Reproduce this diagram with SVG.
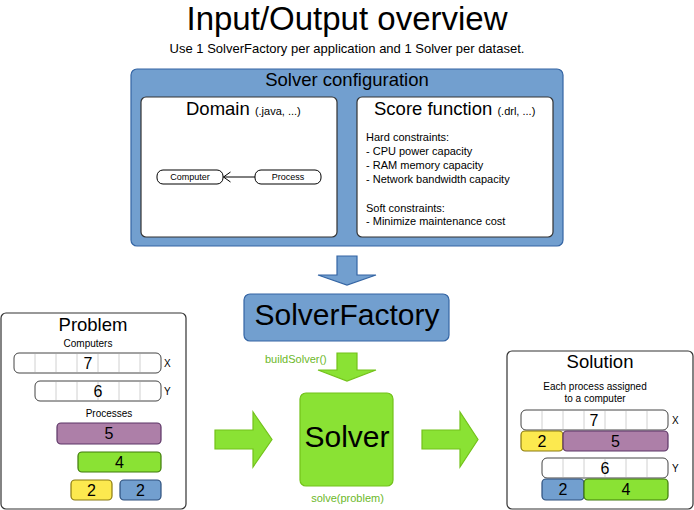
<svg xmlns="http://www.w3.org/2000/svg" width="694" height="510" viewBox="0 0 694 510">
<defs>
<style>
text{font-family:"Liberation Sans",Arial,sans-serif;fill:#000}
.mid{text-anchor:middle}
.panel{fill:#fff;stroke:#333;stroke-width:1.2}
.blue{fill:#729fcf;stroke:#3465a4;stroke-width:1.2}
.green{fill:#8ae234;stroke:#73c21a;stroke-width:1.2}
.purple{fill:#ad7fa8;stroke:#5c3566;stroke-width:1.2}
.yellow{fill:#fce94f;stroke:#8a7a10;stroke-width:1.2}
.pblue{fill:#729fcf;stroke:#2c4f7c;stroke-width:1.2}
.pgreen{fill:#8ae234;stroke:#3f7a0a;stroke-width:1.2}
.row{fill:#fff;stroke:#444;stroke-width:1}
.cell{stroke:#d0d0d0;stroke-width:1}
.uml{fill:#fff;stroke:#000;stroke-width:1}
.lbl{fill:#6cb82a;font-size:11px}
.num{font-size:16px;text-anchor:middle}
.axis{font-size:10px}
</style>
<marker id="open" markerWidth="12" markerHeight="12" refX="10" refY="6" orient="auto" markerUnits="userSpaceOnUse">
<path d="M3,1 L10,6 L3,11" fill="none" stroke="#000" stroke-width="1"/>
</marker>
</defs>
<rect width="694" height="510" fill="#fff"/>

<g id="title">
<text x="347" y="30" class="mid" font-size="33">Input/Output overview</text>
<text x="347" y="53" class="mid" font-size="13">Use 1 SolverFactory per application and 1 Solver per dataset.</text>
</g>

<g id="solver-configuration">
<rect x="131" y="69" width="432" height="177" rx="6" class="blue"/>
<text x="347" y="86" class="mid" font-size="18.5">Solver configuration</text>
</g>

<g id="domain">
<rect x="141" y="97" width="196" height="140" rx="5" class="panel" stroke="#000"/>
<text x="186" y="115" font-size="18.5">Domain <tspan font-size="11">(.java, ...)</tspan></text>
</g>
<g id="computer">
<rect x="157" y="170" width="66" height="14" rx="6" class="uml"/>
<text x="190" y="179.5" class="mid" font-size="9">Computer</text>
</g>
<g id="process">
<rect x="255" y="170" width="66" height="14" rx="6" class="uml"/>
<text x="288" y="179.5" class="mid" font-size="9">Process</text>
</g>

<g id="score-function">
<rect x="357" y="97" width="196" height="140" rx="5" class="panel" stroke="#000"/>
<text x="374" y="115" font-size="18.5">Score function <tspan font-size="11">(.drl, ...)</tspan></text>
<text x="366" y="141" font-size="11">Hard constraints:</text>
<text x="366" y="155" font-size="11">- CPU power capacity</text>
<text x="366" y="168.5" font-size="11">- RAM memory capacity</text>
<text x="366" y="182.5" font-size="11">- Network bandwidth capacity</text>
<text x="366" y="211.5" font-size="11">Soft constraints:</text>
<text x="366" y="225" font-size="11">- Minimize maintenance cost</text>
</g>

<g id="solver-factory">
<rect x="244" y="294" width="205" height="47" rx="6" class="blue"/>
<text x="347" y="324.5" class="mid" font-size="30">SolverFactory</text>
</g>

<g id="solver">
<rect x="300" y="393" width="93" height="93" rx="6" class="green"/>
<text x="347" y="447" class="mid" font-size="30">Solver</text>
</g>

<g id="problem">
<rect x="1" y="313" width="185" height="196" rx="5" class="panel"/>
<text x="93" y="331" class="mid" font-size="18.5">Problem</text>
<text x="88" y="347" class="mid" font-size="10">Computers</text>
<rect x="14" y="353" width="147" height="20" rx="5" class="row"/>
<path class="cell" d="M35,354V372M56,354V372M77,354V372M98,354V372M119,354V372M140,354V372"/>
<text x="88" y="369" class="num">7</text>
<text x="164" y="367" class="axis">X</text>
<rect x="35" y="381" width="126" height="20" rx="5" class="row"/>
<path class="cell" d="M56,382V400M77,382V400M98,382V400M119,382V400M140,382V400"/>
<text x="98" y="397" class="num">6</text>
<text x="164" y="395" class="axis">Y</text>
<text x="109" y="417" class="mid" font-size="10">Processes</text>
<rect x="57" y="423" width="104" height="21" rx="4" class="purple"/>
<text x="109" y="439" class="num">5</text>
<rect x="78" y="452" width="83" height="20" rx="4" class="pgreen"/>
<text x="119.5" y="468" class="num">4</text>
<rect x="71" y="480" width="41" height="20" rx="4" class="yellow"/>
<text x="91.5" y="496" class="num">2</text>
<rect x="120" y="480" width="41" height="20" rx="4" class="pblue"/>
<text x="140.5" y="496" class="num">2</text>
</g>

<g id="solution">
<rect x="507" y="351" width="186" height="158" rx="5" class="panel"/>
<text x="600" y="368" class="mid" font-size="18.5">Solution</text>
<text x="595" y="390" class="mid" font-size="10">Each process assigned</text>
<text x="595" y="401.5" class="mid" font-size="10">to a computer</text>
<rect x="521" y="410" width="147" height="20" rx="5" class="row"/>
<path class="cell" d="M542,411V429M563,411V429M584,411V429M605,411V429M626,411V429M647,411V429"/>
<text x="594" y="426" class="num">7</text>
<text x="672" y="424" class="axis">X</text>
<rect x="521" y="431" width="42" height="20" rx="4" class="yellow"/>
<text x="542" y="447" class="num">2</text>
<rect x="563" y="431" width="105" height="20" rx="4" class="purple"/>
<text x="615.5" y="447" class="num">5</text>
<rect x="542" y="458" width="126" height="20" rx="5" class="row"/>
<path class="cell" d="M563,459V477M584,459V477M605,459V477M626,459V477M647,459V477"/>
<text x="605" y="474" class="num">6</text>
<text x="672" y="472" class="axis">Y</text>
<rect x="542" y="479" width="42" height="21" rx="4" class="pblue"/>
<text x="563" y="495" class="num">2</text>
<rect x="584" y="479" width="84" height="21" rx="4" class="pgreen"/>
<text x="626" y="495" class="num">4</text>
</g>

<g id="connectors">
<line x1="255" y1="177" x2="223.5" y2="177" stroke="#000" stroke-width="1" marker-end="url(#open)"/>
<polygon class="blue" points="337,256 357,256 357,275 376,275 347,285 318,275 337,275"/>
<polygon class="green" points="337,353 357,353 357,370 376,370 347,381 318,370 337,370"/>
<polygon class="green" points="215,430 253,430 253,412 272,439.5 253,467 253,449 215,449"/>
<polygon class="green" points="422,430 460,430 460,412 478,439.5 460,467 460,449 422,449"/>
<text x="265" y="363" class="lbl">buildSolver()</text>
<text x="347.5" y="502" class="lbl mid">solve(problem)</text>
</g>
</svg>
